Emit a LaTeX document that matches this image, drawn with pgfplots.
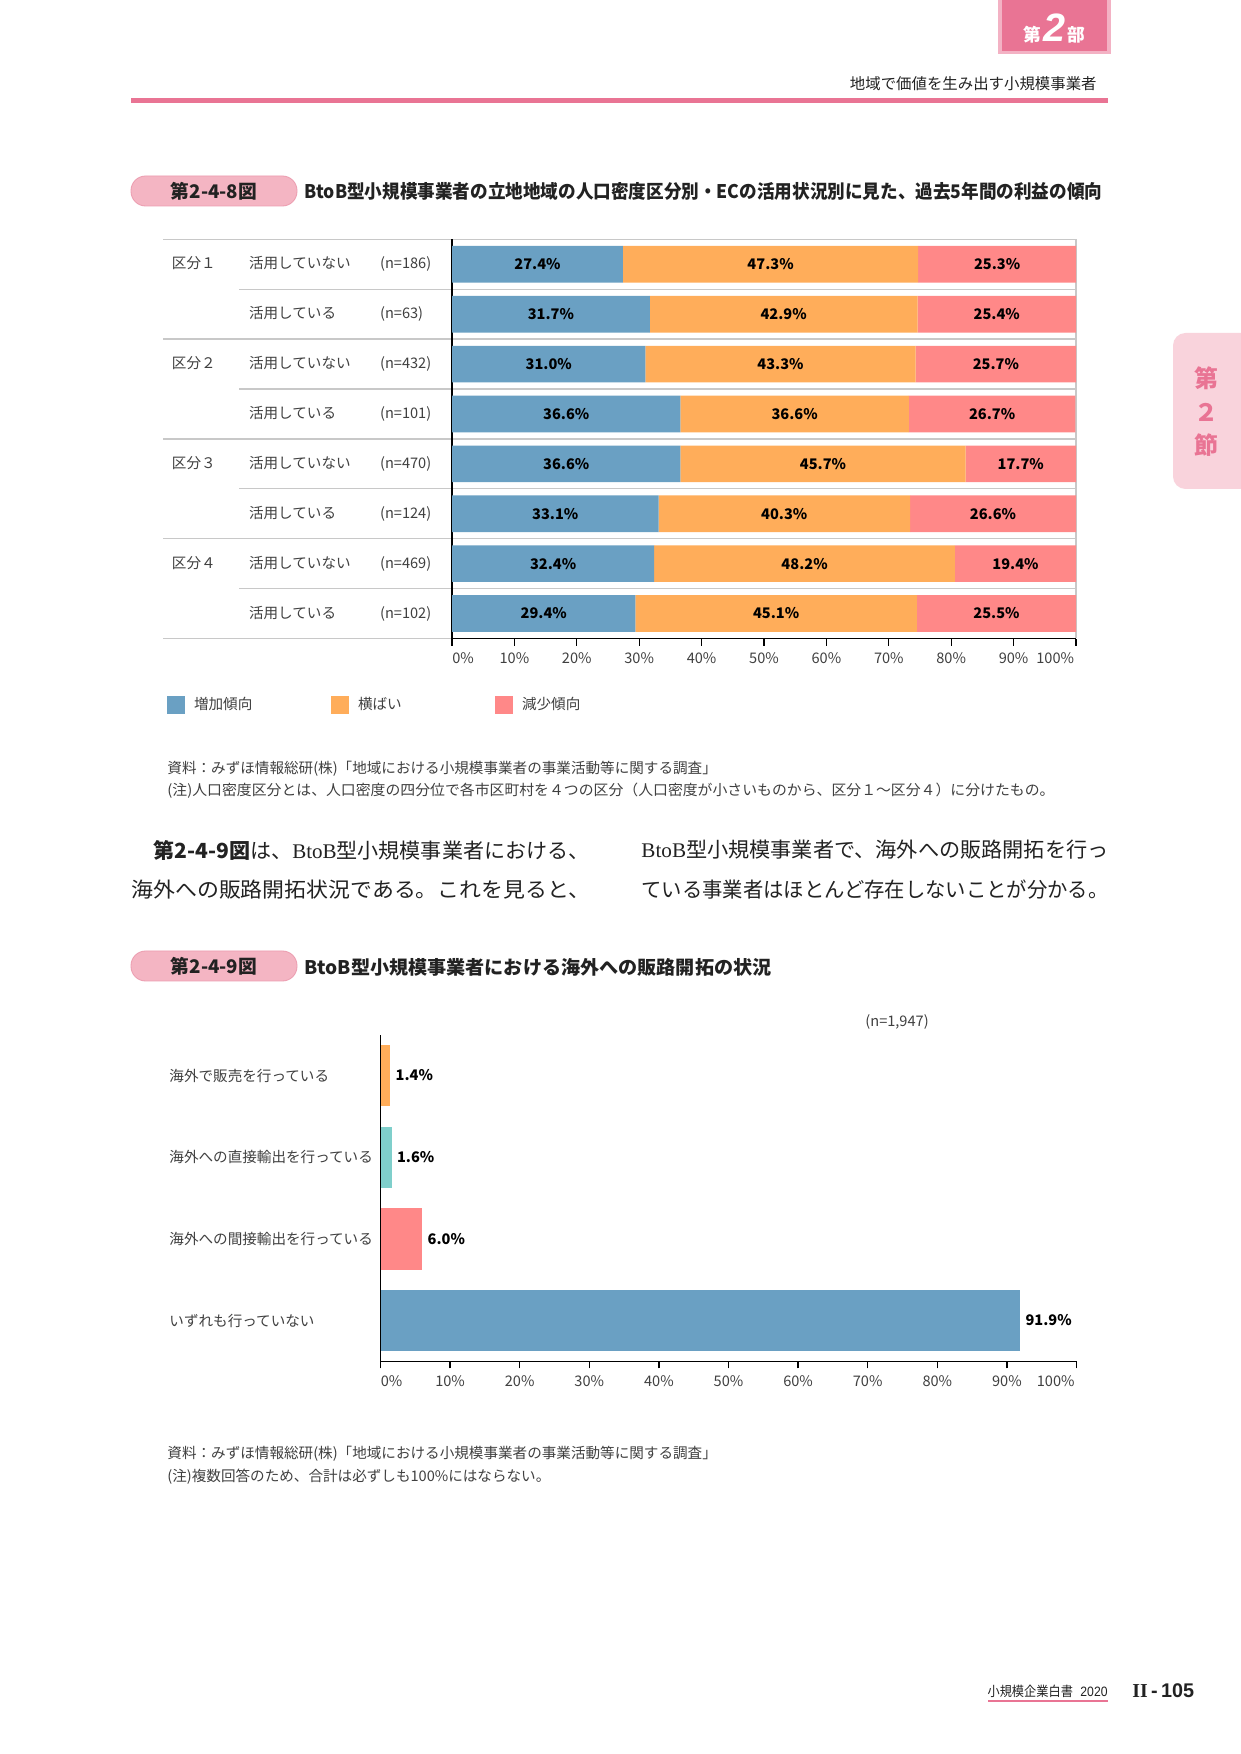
\documentclass[border=0pt]{standalone}
\usepackage{fontspec}
\setmainfont{Noto Sans CJK JP}
\newfontfamily\lib{Liberation Sans}
\newfontfamily\libserif{Liberation Serif}
\usepackage{graphicx}
\usepackage{pgfplots}
\usepackage{pgfplotstable}
\pgfplotsset{compat=1.18}

\definecolor{pinkmain}{HTML}{E97494}
\definecolor{pinklight}{HTML}{F9D3DC}
\definecolor{pillfill}{HTML}{F4B5C3}
\definecolor{pilldraw}{HTML}{EC9DB0}
\definecolor{cblue}{HTML}{6AA0C3}
\definecolor{corange}{HTML}{FFAD5A}
\definecolor{cpink}{HTML}{FF8888}
\definecolor{cteal}{HTML}{7FCFCB}
\definecolor{txt}{HTML}{222222}
\definecolor{lab}{HTML}{404040}
\definecolor{sep}{HTML}{C8C8C8}

\newcommand\fs[1]{\fontsize{#1}{#1}\selectfont}
\newcommand\fitw[2]{\resizebox{#1}{\height}{#2}}
\newcommand\rowlab[3]{\makebox[37pt][l]{#1}\makebox[62.9pt][l]{#2}#3}

% profit trend by density group / EC use (y=8 is the top row)
\pgfplotstableread{
y a b c
8 27.4 47.3 25.3
7 31.7 42.9 25.4
6 31.0 43.3 25.7
5 36.6 36.6 26.7
4 36.6 45.7 17.7
3 33.1 40.3 26.6
2 32.4 48.2 19.4
1 29.4 45.1 25.5
}\profit

\pgfplotsset{seglabel/.style={
  nodes near coords={\pgfmathprintnumber[fixed,fixed zerofill,precision=1]{\segv}\%},
  visualization depends on={\thisrow{#1} \as \segv},
  every node near coord/.style={anchor=center,
     font=\bfseries\fs{7}, text=black, inner sep=0pt}}}

\begin{document}
\begin{tikzpicture}
\useasboundingbox (0pt,0pt) rectangle (595.68pt,-841.92pt);
\fill[white] (0pt,0pt) rectangle (595.68pt,-841.92pt);
\begin{scope}[x=0.48pt,y=-0.48pt]
 % header
 \fill[pinkmain!55] (998,0) rectangle (1111,54);
 \fill[pinkmain] (1002,0) rectangle (1107,51);
 \node[text=white, inner sep=0] at (1054,29) {\bfseries\fs{8.5}第\hspace{1pt}{\lib\bfseries\itshape\fs{19}2}\hspace{1pt}部};
 \node[anchor=east, inner sep=0, text=txt] at (1097,84) {\fs{7.4}地域で価値を生み出す小規模事業者};
 \fill[pinkmain] (131,98) rectangle (1108,103);
 % side tab
 \fill[pinklight, rounded corners=6pt] (1173,333) rectangle (1270,489);
 \node[text=pinkmain, inner sep=0] at (1206,378) {\bfseries\fs{11.5}第};
 \node[text=pinkmain, inner sep=0] at (1206,412) {\bfseries\fs{11.5}２};
 \node[text=pinkmain, inner sep=0] at (1206,445) {\bfseries\fs{11.5}節};
 % figure 1 title
 \filldraw[fill=pillfill, draw=pilldraw, line width=0.4pt, rounded corners=7pt] (131,176) rectangle (297,206);
 \node[inner sep=0, text=txt] at (214,191) {\bfseries\fs{9}第2-4-8図};
 \node[anchor=west, inner sep=0, text=txt] at (304,191) {\fitw{383pt}{\bfseries\fs{9}BtoB型小規模事業者の立地地域の人口密度区分別・ECの活用状況別に見た、過去5年間の利益の傾向}};
 % chart 1 separators and frame
 \foreach \yy in {239.3,339.1,438.9,538.7,638.5} \draw[sep, line width=0.6pt] (163,\yy) -- (1076,\yy);
 \foreach \yy in {289.2,389.0,488.8,588.6} \draw[sep, line width=0.6pt] (239,\yy) -- (1076,\yy);
 \draw[sep, line width=0.6pt] (1076,239.3) -- (1076,638.5);
 % notes 1
 \node[anchor=west, inner sep=0, text=lab] at (167,769) {\fs{7}資料：みずほ情報総研(株)「地域における小規模事業者の事業活動等に関する調査」};
 \node[anchor=west, inner sep=0, text=lab] at (167,791) {\fitw{425.8pt}{\fs{7}(注)人口密度区分とは、人口密度の四分位で各市区町村を４つの区分（人口密度が小さいものから、区分１～区分４）に分けたもの。}};
 % body text
 \node[anchor=west, inner sep=0, text=txt] at (153,850) {\fitw{209.3pt}{\fs{10}{\bfseries 第2-4-9図}は、{\libserif BtoB}型小規模事業者における、}};
 \node[anchor=west, inner sep=0, text=txt] at (131,890) {\fitw{220.3pt}{\fs{10}海外への販路開拓状況である。これを見ると、}};
 \node[anchor=west, inner sep=0, text=txt] at (641,850) {\fitw{224.2pt}{\fs{10}{\libserif BtoB}型小規模事業者で、海外への販路開拓を行っ}};
 \node[anchor=west, inner sep=0, text=txt] at (641,890) {\fitw{224.2pt}{\fs{10}ている事業者はほとんど存在しないことが分かる。}};
 % figure 2 title
 \filldraw[fill=pillfill, draw=pilldraw, line width=0.4pt, rounded corners=7pt] (131,951) rectangle (297,981);
 \node[inner sep=0, text=txt] at (214,966) {\bfseries\fs{9}第2-4-9図};
 \node[anchor=west, inner sep=0, text=txt] at (304,967) {\fitw{224.2pt}{\bfseries\fs{9}BtoB型小規模事業者における海外への販路開拓の状況}};
 \node[anchor=west, inner sep=0, text=lab] at (865,1022) {\fs{7}(n=1,947)};
 % notes 2
 \node[anchor=west, inner sep=0, text=lab] at (167,1454) {\fs{7}資料：みずほ情報総研(株)「地域における小規模事業者の事業活動等に関する調査」};
 \node[anchor=west, inner sep=0, text=lab] at (167,1477) {\fs{7}(注)複数回答のため、合計は必ずしも100\%にはならない。};
 % footer
 \node[anchor=east, inner sep=0, text=txt] at (1108,1691) {\fitw{57.6pt}{\fs{6.5}小規模企業白書\hspace{4pt}{\lib 2020}}};
 \draw[pinkmain, line width=0.7pt] (988,1701) -- (1108,1701);
 \node[anchor=west, inner sep=0, text=txt] at (1132,1691) {\bfseries\fs{9.5}{\libserif\bfseries II}{\lib\bfseries\,-\,105}};
\end{scope}

% ---------------- chart 1 ----------------
\begin{axis}[
  at={(216.96pt,-306.48pt)}, anchor=south west,
  scale only axis, width=299.52pt, height=191.6pt,
  xbar stacked, bar width=0.735,
  xmin=0, xmax=100, ymin=0.5, ymax=8.5,
  axis x line*=bottom, axis y line*=left,
  x axis line style={-, black, line width=0.7pt},
  y axis line style={-, black, line width=0.6pt},
  xtick={0,10,...,100},
  xticklabels={{\hspace*{10.6pt}0\%},10\%,20\%,30\%,40\%,50\%,60\%,70\%,80\%,90\%,{100\%\hspace*{20pt}}},
  xtick style={black, line width=0.6pt},
  tick align=outside, major tick length=3.4pt,
  ytick={1,...,8}, ytick style={draw=none},
  yticklabels={
    {\rowlab{}{活用している}{(n=102)}},
    {\rowlab{区分４}{活用していない}{(n=469)}},
    {\rowlab{}{活用している}{(n=124)}},
    {\rowlab{区分３}{活用していない}{(n=470)}},
    {\rowlab{}{活用している}{(n=101)}},
    {\rowlab{区分２}{活用していない}{(n=432)}},
    {\rowlab{}{活用している}{(n=63)}},
    {\rowlab{区分１}{活用していない}{(n=186)}}},
  yticklabel style={anchor=west, xshift=-131.2pt, inner xsep=0pt},
  tick label style={font=\fs{7}, text=lab},
  /pgf/number format/assume math mode=true,
  clip=false,
  legend columns=3,
  legend style={at={(rel axis cs:-0.4567,-0.1667)}, anchor=west, draw=none, fill=none,
     inner sep=0pt, outer sep=0pt, font=\fs{7},
     nodes={inner sep=0pt, text width=65.76pt, align=left, text=lab},
     /tikz/every odd column/.style={column sep=4.32pt},
     /tikz/every even column/.style={column sep=0pt}},
]
\addplot[fill=cblue, draw=none, seglabel=a,
  legend image code/.code={\fill[cblue] (0cm,-0.152cm) rectangle (0.304cm,0.152cm);}]
  table[x=a, y=y] {\profit};
\addlegendentry{増加傾向}
\addplot[fill=corange, draw=none, seglabel=b,
  legend image code/.code={\fill[corange] (0cm,-0.152cm) rectangle (0.304cm,0.152cm);}]
  table[x=b, y=y] {\profit};
\addlegendentry{横ばい}
\addplot[fill=cpink, draw=none, seglabel=c,
  legend image code/.code={\fill[cpink] (0cm,-0.152cm) rectangle (0.304cm,0.152cm);}]
  table[x=c, y=y] {\profit};
\addlegendentry{減少傾向}
\end{axis}

% ---------------- chart 2 ----------------
\begin{axis}[
  at={(182.64pt,-653.47pt)}, anchor=south west,
  scale only axis, width=334.08pt, height=156.82pt,
  xbar, bar width=0.75, bar shift=0pt,
  xmin=0, xmax=100, ymin=0.5, ymax=4.5,
  axis x line*=bottom, axis y line*=left,
  x axis line style={-, black, line width=0.8pt},
  y axis line style={-, black, line width=0.5pt},
  xtick={0,10,...,100},
  xticklabels={{\hspace*{10.6pt}0\%},10\%,20\%,30\%,40\%,50\%,60\%,70\%,80\%,90\%,{100\%\hspace*{20pt}}},
  xtick style={black, line width=0.7pt},
  tick align=outside, major tick length=3.4pt,
  ytick={1,2,3,4}, ytick style={draw=none},
  yticklabels={いずれも行っていない,海外への間接輸出を行っている,海外への直接輸出を行っている,海外で販売を行っている},
  yticklabel style={anchor=west, xshift=-98.1pt, inner xsep=0pt},
  tick label style={font=\fs{7}, text=lab},
  /pgf/number format/assume math mode=true,
  clip=false,
  point meta=x,
  nodes near coords={\pgfmathprintnumber[fixed,fixed zerofill,precision=1]{\pgfplotspointmeta}\%},
  every node near coord/.append style={font=\bfseries\fs{7}, text=black, anchor=west, inner xsep=2.4pt},
]
\addplot[fill=corange, draw=none] coordinates {(1.4,4)};
\addplot[fill=cteal, draw=none] coordinates {(1.6,3)};
\addplot[fill=cpink, draw=none] coordinates {(6.0,2)};
\addplot[fill=cblue, draw=none] coordinates {(91.9,1)};
\end{axis}
\end{tikzpicture}
\end{document}
